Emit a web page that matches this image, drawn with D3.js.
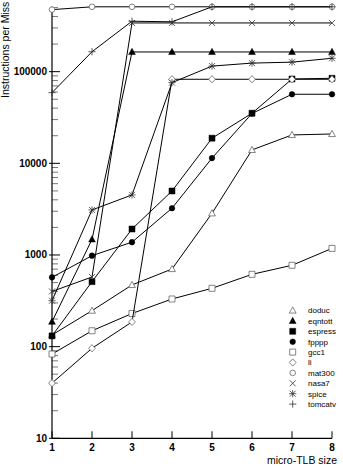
<!DOCTYPE html>
<html>
<head>
<meta charset="utf-8">
<script src="https://cdn.jsdelivr.net/npm/d3@7"></script>
<style>
  body { margin: 0; background: #fff; }
  svg { font-family: "Liberation Sans", Arial, sans-serif; }
</style>
</head>
<body>
<svg width="343" height="466"></svg>
<script>
var sizes = [1, 2, 3, 4, 5, 6, 7, 8];
var names = ["doduc", "eqntott", "espress", "fpppp", "gcc1", "li", "mat300", "nasa7", "spice", "tomcatv"];
var doduc = [134, 247, 471, 703, 2850, 14000, 20400, 20900];
var eqntott = [187, 1480, 164000, 164000, 164000, 164000, 164000, 164000];
var espress = [131, 512, 1920, 4990, 18800, 35200, 83200, 84700];
var fpppp = [570, 983, 1380, 3240, 11400, 35000, 56700, 56700];
var gcc1 = [83, 149, 230, 331, 433, 615, 772, 1180];
var li = [40, 96, 186, 82600, 82600, 82600, 82600, 82600];
var mat300 = [475000, 510000, 510000, 510000, 510000, 510000, 510000, 510000];
var nasa7 = [400, 575, 340000, 340000, 340000, 340000, 340000, 340000];
var spice = [317, 3100, 4520, 75900, 115000, 124000, 127000, 140000];
var tomcatv = [59000, 165000, 355000, 350000, 510000, 510000, 510000, 510000];
var yLabels = [10, 100, 1000, 10000, 100000];

var values = [doduc, eqntott, espress, fpppp, gcc1, li, mat300, nasa7, spice, tomcatv];
var marks = ["tri", "triF", "sqF", "circF", "sq", "dia", "circ", "x", "star", "plus"];

var svg = d3.select("svg");

var x = d3.scaleLinear().domain([1, 8]).range([52, 332]);
var y = d3.scaleLog().domain([10, 514000]).range([438.3, 6.5]);

// marker shapes
function markPath(m) {
  if (m == "tri" || m == "triF") return "M0,-3.6L3.4,2.6L-3.4,2.6Z";
  if (m == "sq" || m == "sqF") return "M-3,-3h6v6h-6Z";
  if (m == "dia") return "M0,-3.6L3.4,0L0,3.6L-3.4,0Z";
  if (m == "circ" || m == "circF") return "M2.8,0A2.8,2.8 0 1,1 -2.8,0A2.8,2.8 0 1,1 2.8,0Z";
  if (m == "x") return "M-3,-3L3,3M-3,3L3,-3";
  if (m == "plus") return "M-3.6,0H3.6M0,-3.6V3.6";
  if (m == "star") return "M-3,-3L3,3M-3,3L3,-3M-3.6,0H3.6M0,-3.6V3.6";
}
function drawMark(sel, m) {
  var filled = m == "triF" || m == "sqF" || m == "circF";
  var open = m == "tri" || m == "sq" || m == "dia" || m == "circ";
  sel.attr("d", markPath(m))
    .attr("fill", filled ? "#000" : (open ? "#fff" : "none"))
    .attr("stroke", filled ? "#000" : (open ? "#666" : "#333"))
    .attr("stroke-width", filled ? 0.5 : 0.8);
}

// axes
var ya = svg.append("g");
var minor = [];
for (var k = 1; k <= 5; k++) {
  for (var j = 2; j <= 9; j++) {
    var v = j * Math.pow(10, k);
    if (v <= 514000) minor.push(v);
  }
}
ya.selectAll(".minor")
  .data(minor)
  .enter().append("line")
    .attr("x1", 52).attr("x2", 58)
    .attr("y1", function(d) { return y(d); })
    .attr("y2", function(d) { return y(d); })
    .attr("stroke", "#555")
    .attr("stroke-width", 0.8);
ya.selectAll(".major")
  .data(yLabels)
  .enter().append("line")
    .attr("x1", 49).attr("x2", 60)
    .attr("y1", function(d) { return y(d); })
    .attr("y2", function(d) { return y(d); })
    .attr("stroke", "#000");
ya.selectAll("text")
  .data(yLabels)
  .enter().append("text")
    .attr("x", 47)
    .attr("y", function(d) { return y(d); })
    .attr("dy", "0.35em")
    .attr("text-anchor", "end")
    .attr("font-size", 10)
    .attr("font-weight", "bold")
    .text(function(d) { return d; });
ya.append("line")
  .attr("x1", 52).attr("x2", 52)
  .attr("y1", y.range()[1]).attr("y2", y.range()[0])
  .attr("stroke", "#000").attr("stroke-width", 1.2);

var xa = svg.append("g");
xa.selectAll("line")
  .data(sizes)
  .enter().append("line")
    .attr("x1", function(d) { return x(d); })
    .attr("x2", function(d) { return x(d); })
    .attr("y1", 438.3).attr("y2", 431.3)
    .attr("stroke", "#000");
xa.selectAll("text")
  .data(sizes)
  .enter().append("text")
    .attr("x", function(d) { return x(d); })
    .attr("y", 451)
    .attr("text-anchor", "middle")
    .attr("font-size", 10)
    .attr("font-weight", "bold")
    .text(function(d) { return d; });
xa.append("line")
  .attr("x1", 52).attr("x2", 332)
  .attr("y1", 438.3).attr("y2", 438.3)
  .attr("stroke", "#000").attr("stroke-width", 1.2);

svg.append("text")
  .attr("x", 337)
  .attr("y", 464)
  .attr("text-anchor", "end")
  .attr("font-size", 10.5)
  .text("micro-TLB size");

svg.append("text")
  .attr("transform", "translate(9,98) rotate(-90)")
  .attr("text-anchor", "start")
  .attr("font-size", 10.5)
  .text("Instructions per Miss");

// lines
var line = d3.line()
  .x(function(d, i) { return x(sizes[i]); })
  .y(function(d) { return y(d); });

var series = svg.append("g")
  .selectAll("g")
  .data(values)
  .enter().append("g");

series.append("path")
  .attr("d", line)
  .attr("fill", "none")
  .attr("stroke", "#000")
  .attr("stroke-width", 1);

series.each(function(vals, s) {
  d3.select(this).selectAll(".m")
    .data(vals)
    .enter().append("path")
      .attr("transform", function(d, i) { return "translate(" + x(sizes[i]) + "," + y(d) + ")"; })
      .call(drawMark, marks[s]);
});

// legend
var legend = svg.append("g")
    .attr("font-size", 8)
  .selectAll("g")
  .data(names)
  .enter().append("g")
    .attr("transform", function(d, i) { return "translate(0," + (310.5 + i * 10.4) + ")"; });

legend.append("path")
  .attr("transform", "translate(292.7,0)")
  .each(function(d, i) { d3.select(this).call(drawMark, marks[i]); });

legend.append("text")
  .attr("x", 308)
  .attr("dy", "0.35em")
  .text(function(d) { return d; });
</script>
</body>
</html>
